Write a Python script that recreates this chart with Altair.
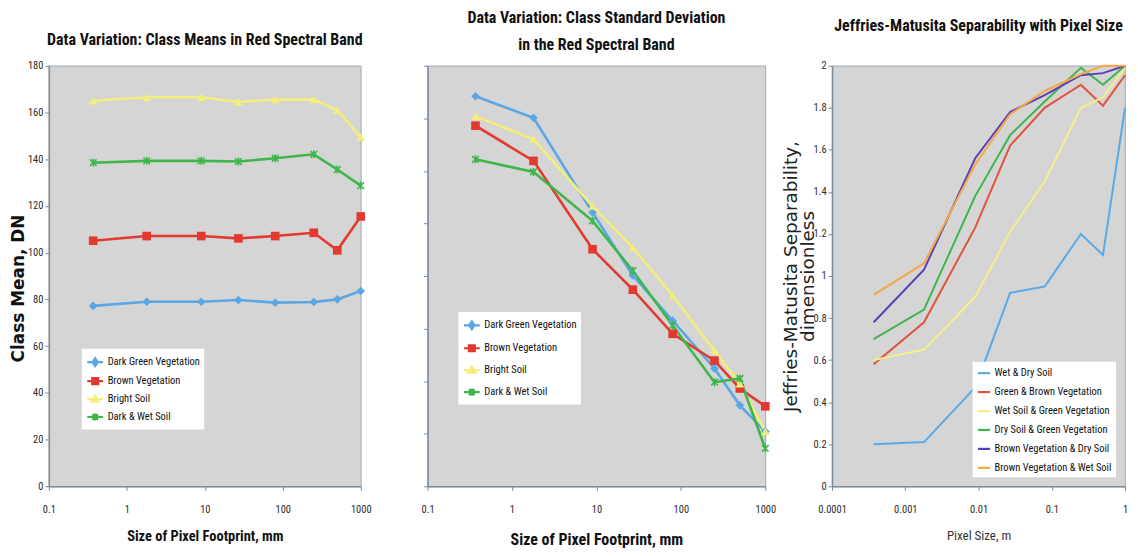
import altair as alt
import pandas as pd

# ---------------- data ----------------
x_mm = [0.37, 1.8, 9, 27, 80, 250, 500, 1000]
x_m = [0.00037, 0.0018, 0.009, 0.027, 0.08, 0.25, 0.5, 1.0]

classes = ["Dark Green Vegetation", "Brown Vegetation", "Bright Soil", "Dark & Wet Soil"]
class_colors = ["#5ba6e4", "#e23a30", "#f4ee7c", "#3fb64c"]

mean_dgv = [77.2, 79.0, 79.0, 79.7, 78.6, 78.9, 80.0, 83.6]
mean_bv = [105.1, 107.1, 107.1, 106.1, 107.1, 108.5, 101.0, 115.5]
mean_bs = [165.0, 166.5, 166.5, 164.5, 165.5, 165.5, 161.0, 149.5]
mean_dws = [138.5, 139.3, 139.3, 139.0, 140.4, 142.1, 135.6, 128.7]

sd_dgv = [7.42, 7.01, 5.21, 4.01, 3.15, 2.24, 1.54, 1.04]
sd_bv = [6.86, 6.19, 4.51, 3.74, 2.90, 2.39, 1.86, 1.52]
sd_bs = [7.04, 6.60, 5.33, 4.54, 3.63, 2.58, 1.95, 1.04]
sd_dws = [6.22, 5.98, 5.05, 4.10, 3.06, 1.98, 2.05, 0.72]

pairs = ["Wet & Dry Soil", "Green & Brown Vegetation", "Wet Soil & Green Vegetation",
         "Dry Soil & Green Vegetation", "Brown Vegetation & Dry Soil", "Brown Vegetation & Wet Soil"]
pair_colors = ["#5aaae8", "#e0533f", "#f6ef8c", "#40b54d", "#5a40b8", "#f5a843"]

jm_wd = [0.20, 0.21, 0.47, 0.92, 0.95, 1.20, 1.10, 1.80]
jm_gb = [0.58, 0.78, 1.23, 1.62, 1.80, 1.91, 1.81, 1.955]
jm_wg = [0.60, 0.65, 0.90, 1.21, 1.45, 1.80, 1.85, 1.99]
jm_dg = [0.70, 0.84, 1.38, 1.67, 1.83, 1.99, 1.91, 2.0]
jm_bd = [0.78, 1.03, 1.56, 1.78, 1.86, 1.955, 1.965, 2.0]
jm_bw = [0.91, 1.06, 1.53, 1.77, 1.88, 1.96, 2.0, 2.0]

mean_ticks = [0, 20, 40, 60, 80, 100, 120, 140, 160, 180]
sd_ticks = [0, 1, 2, 3, 4, 5, 6, 7, 8]
jm_ticks = [0, 0.2, 0.4, 0.6, 0.8, 1.0, 1.2, 1.4, 1.6, 1.8, 2.0]
mm_ticks = [0.1, 1, 10, 100, 1000]
m_ticks = [0.0001, 0.001, 0.01, 0.1, 1]

# ---------------- styling ----------------
NARROW = "Liberation Sans Narrow, Arial Narrow, Roboto Condensed, sans-serif"
WIDE = "DejaVu Sans, Verdana, sans-serif"
BG = "#d5d5d5"
DOMAIN = "#7d8c99"
TXT = "#2a2a2a"

marker_shapes = ["diamond", "square", "triangle-up",
                 "M-1,-1L1,1M-1,1L1,-1M0,-1.2L0,1.2"]
legend_paths = [
    "M-1,0H1M0,-0.5L0.34,0L0,0.5L-0.34,0Z M0,-0.25L0.16,0L0,0.25L-0.16,0Z",
    "M-1,0H1M-0.38,-0.38H0.38V0.38H-0.38Z M-0.16,-0.16H0.16V0.16H-0.16Z",
    "M-1,0H1M0,-0.45L0.42,0.32L-0.42,0.32Z M0,-0.16L0.16,0.16L-0.16,0.16Z",
    "M-1,0H1M-0.36,-0.36L0.36,0.36M-0.36,0.36L0.36,-0.36M0,-0.45V0.45",
]


def long_df(xs, names, series):
    rows = []
    for name, vals in zip(names, series):
        for xv, yv in zip(xs, vals):
            rows.append({"x": xv, "v": yv, "series": name})
    return pd.DataFrame(rows)


def class_panel(df, ydomain, yticks, show_labels, ytitle, title, width, height,
                legx, legy, legrow, xtitle_size, xtitle_pad):
    xenc = alt.X("x:Q",
                 scale=alt.Scale(type="log", domain=[0.1, 1000], nice=False),
                 axis=alt.Axis(values=mm_ticks, format="~g", labelFlush=False,
                               title="Size of Pixel Footprint, mm",
                               titleFont=NARROW, titleFontSize=xtitle_size,
                               titleFontWeight="bold", titleColor="#111",
                               titlePadding=xtitle_pad))
    yaxis = alt.Axis(values=yticks, labels=show_labels, format="d",
                     title=ytitle if ytitle else None,
                     titleFont=WIDE, titleFontSize=17, titleFontWeight="bold",
                     titleColor="#111", titlePadding=0, titleY=height / 2 + 12)
    yenc = alt.Y("v:Q", scale=alt.Scale(domain=ydomain, nice=False, zero=False), axis=yaxis)
    cscale = alt.Scale(domain=classes, range=class_colors)

    layers = []
    for name, col in zip(classes, class_colors):
        ln = alt.Chart(df).transform_filter(alt.datum.series == name).mark_line(
            strokeWidth=2.6, color=col).encode(x=xenc, y=yenc)
        layers.append(ln)
    for name, col, shp in zip(classes, class_colors, marker_shapes):
        filled = shp in ("diamond", "square", "triangle-up")
        pts = alt.Chart(df).transform_filter(alt.datum.series == name).mark_point(
            shape=shp, filled=filled, color=col, size=75 if filled else 45,
            strokeWidth=1.6, opacity=1).encode(x=xenc, y=yenc)
        layers.append(pts)

    leg = alt.Legend(orient="none", legendX=legx, legendY=legy, title=None,
                     fillColor="white", padding=4, rowPadding=legrow,
                     labelFont=NARROW, labelFontSize=10.5, labelColor="#111",
                     symbolSize=250, symbolStrokeWidth=2.2, symbolOpacity=1,
                     labelOffset=3)
    # near-invisible point layer that only carries the legend (line + marker symbols)
    legend_layer = alt.Chart(df).mark_point(size=1, strokeWidth=0.5).encode(
        x=xenc, y=yenc,
        color=alt.Color("series:N", scale=cscale, legend=leg),
        shape=alt.Shape("series:N", scale=alt.Scale(domain=classes, range=legend_paths),
                        legend=leg))
    layers.append(legend_layer)
    return alt.layer(*layers).properties(width=width, height=height, title=title)


df_mean = long_df(x_mm, classes, [mean_dgv, mean_bv, mean_bs, mean_dws])
df_sd = long_df(x_mm, classes, [sd_dgv, sd_bv, sd_bs, sd_dws])
df_jm = long_df(x_m, pairs, [jm_wd, jm_gb, jm_wg, jm_dg, jm_bd, jm_bw])

H = 422

p1 = class_panel(df_mean, [0, 180], mean_ticks, True, "Class Mean,  DN",
                 alt.TitleParams("Data Variation:  Class Means in Red Spectral Band",
                                 fontSize=16, offset=13),
                 313, H, 33, 284, 1, 14.5, 15)

p2 = class_panel(df_sd, [0, 8], sd_ticks, False, None,
                 alt.TitleParams("Data Variation: Class Standard Deviation",
                                 subtitle="in the Red Spectral Band",
                                 subtitleFont=NARROW, subtitleFontSize=16,
                                 subtitleFontWeight="bold", subtitleColor="#111",
                                 subtitlePadding=11, fontSize=16, offset=12),
                 339, H, 31, 247, 5, 16, 17)

jx = alt.X("x:Q", scale=alt.Scale(type="log", domain=[0.0001, 1], nice=False),
           axis=alt.Axis(values=m_ticks, format="~g", labelFlush=False,
                         title="Pixel Size, m", titleFont=NARROW, titleFontSize=13,
                         titleFontWeight="normal", titleColor="#333", titlePadding=15))
jy = alt.Y("v:Q", scale=alt.Scale(domain=[0, 2], nice=False),
           axis=alt.Axis(values=jm_ticks, format="~g",
                         title=["Jeffries-Matusita Separability,", "dimensionless"],
                         titleFont=WIDE, titleFontSize=18.5, titleFontWeight="normal",
                         titleColor="#222", titlePadding=-5, titleLineHeight=18))
p3 = alt.Chart(df_jm).mark_line(strokeWidth=2).encode(
    x=jx, y=jy,
    color=alt.Color("series:N", scale=alt.Scale(domain=pairs, range=pair_colors),
                    legend=alt.Legend(orient="bottom-right", offset=9, title=None,
                                      fillColor="white", padding=4, rowPadding=6,
                                      labelFont=NARROW, labelFontSize=10.5,
                                      labelColor="#111", symbolType="stroke",
                                      symbolSize=150, symbolStrokeWidth=2.2,
                                      labelOffset=3)),
).properties(width=294, height=H,
             title=alt.TitleParams("Jeffries-Matusita Separability with Pixel Size",
                                   fontSize=16, offset=27))

chart = alt.hconcat(p1, p2, p3, spacing=67, bounds="flush").resolve_scale(
    color="independent", shape="independent"
).resolve_legend(
    color="independent", shape="independent"
).properties(
    padding=0
).configure_view(
    fill=BG, stroke="#aab3bb", strokeWidth=1.2
).configure_axis(
    grid=False, labelFont=NARROW, labelFontSize=10.5, labelColor=TXT,
    domainColor=DOMAIN, domainWidth=1.5, tickColor=DOMAIN, tickSize=4,
    labelPadding=2
).configure_axisX(
    labelPadding=14
).configure_title(
    font=NARROW, fontWeight="bold", color="#111", anchor="middle"
)

chart.save("out.html", embed_options={"renderer": "svg", "actions": False})
